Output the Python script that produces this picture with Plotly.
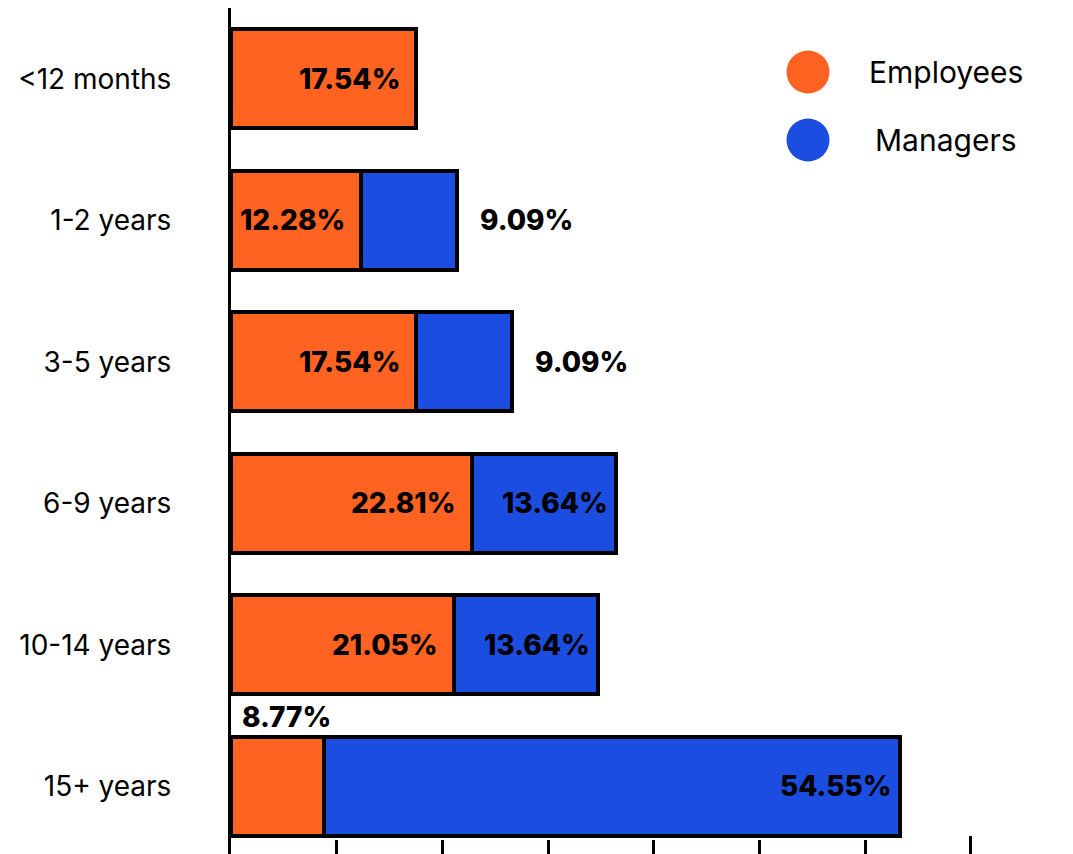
import plotly.graph_objects as go

categories = ["<12 months", "1-2 years", "3-5 years", "6-9 years", "10-14 years", "15+ years"]
employees = [17.54, 12.28, 17.54, 22.81, 21.05, 8.77]
managers = [None, 9.09, 9.09, 13.64, 13.64, 54.55]
series_names = ["Employees", "Managers"]
minor_tick_values = [0, 10, 20, 30, 40, 50, 60]
end_tick_values = [70]

ORANGE = "#FF6321"
BLUE = "#1C4DE1"
FONT = "Inter"

# page has an 8px body margin around the figure
OFF = 8
W, H = 1065, 849
ML, MR, MT, MB = 223, 0, 0, 0
pw, ph = W - ML - MR, H - MT - MB

fig = go.Figure()
fig.add_trace(go.Bar(y=categories, x=employees, orientation="h", name=series_names[0],
                     marker=dict(color=ORANGE, line=dict(color="black", width=4)),
                     showlegend=False, hoverinfo="x+y"))
fig.add_trace(go.Bar(y=categories, x=managers, orientation="h", name=series_names[1],
                     marker=dict(color=BLUE, line=dict(color="black", width=4)),
                     showlegend=False, hoverinfo="x+y"))

label_font = dict(family=FONT, size=28, color="black", weight=800)
THRESH = 10  # segments narrower than this get their label outside
annotations = []
for cat, e, m in zip(categories, employees, managers):
    if e is not None:
        if e >= THRESH:
            annotations.append(dict(x=e, y=cat, text=f"{e:.2f}%", xanchor="right",
                                    xshift=-14, showarrow=False, font=label_font))
        else:
            annotations.append(dict(x=e / 2, y=cat, text=f"{e:.2f}%", xanchor="center",
                                    yshift=69, xshift=9, showarrow=False, font=label_font))
    if m is not None:
        end = (e or 0) + m
        if m >= THRESH:
            annotations.append(dict(x=end, y=cat, text=f"{m:.2f}%", xanchor="right",
                                    xshift=-6, showarrow=False, font=label_font))
        else:
            annotations.append(dict(x=end, y=cat, text=f"{m:.2f}%", xanchor="left",
                                    xshift=21, showarrow=False, font=label_font))

# custom legend (large circles)
legend_y = [72, 140]
legend_colors = [ORANGE, BLUE]
shapes = []
for name, col, py in zip(series_names, legend_colors, legend_y):
    xp = (808 - OFF - ML) / pw
    yp = 1 - (py - OFF - MT) / ph
    shapes.append(dict(type="circle", xref="paper", yref="paper", xsizemode="pixel", ysizemode="pixel",
                       xanchor=xp, yanchor=yp, x0=-21.5, x1=21.5, y0=-21.5, y1=21.5,
                       fillcolor=col, line=dict(width=0)))
    annotations.append(dict(x=(946 - OFF - ML) / pw, y=yp, xref="paper", yref="paper", text=name,
                            xanchor="center", yanchor="middle", showarrow=False,
                            font=dict(family=FONT, size=30, color="black")))

fig.update_layout(
    barmode="stack",
    bargap=0.3,
    width=W, height=H,
    margin=dict(l=ML, r=MR, t=MT, b=MB),
    plot_bgcolor="white", paper_bgcolor="white",
    showlegend=False,
    annotations=annotations,
    shapes=shapes,
    font=dict(family=FONT, size=28, color="black"),
)
fig.update_yaxes(type="category", categoryorder="array", categoryarray=categories,
                 range=[5.5, -0.5], showline=True, linecolor="black", linewidth=3,
                 showgrid=False, zeroline=False, ticks="", ticklabelstandoff=51,
                 tickfont=dict(family=FONT, size=28, color="black"))
fig.update_xaxes(range=[0, pw / 10.57], showline=False, showgrid=False, zeroline=False,
                 tickvals=end_tick_values, ticks="inside", ticklen=21, tickwidth=3, tickcolor="black",
                 showticklabels=False,
                 minor=dict(tickmode="array", tickvals=minor_tick_values, ticks="inside",
                            ticklen=17, tickwidth=3, tickcolor="black", showgrid=False))

fig.write_html("out.html")
